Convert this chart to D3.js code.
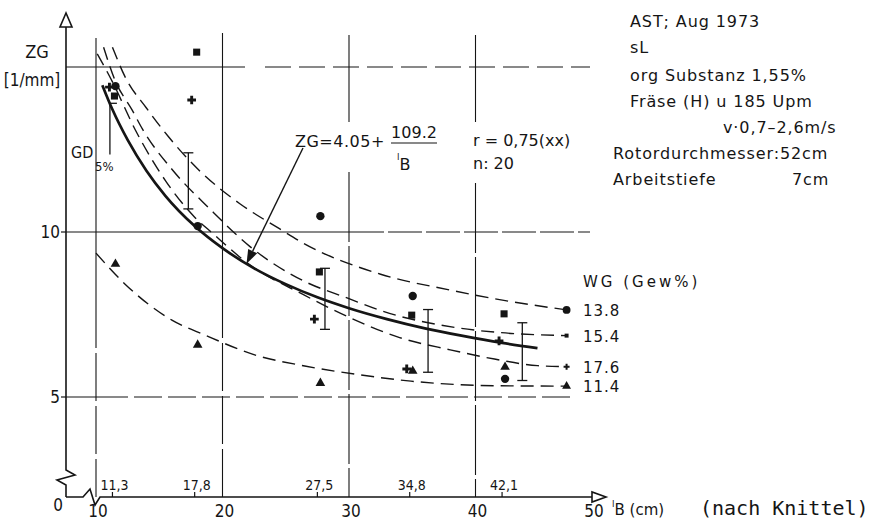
<!DOCTYPE html>
<html>
<head>
<meta charset="utf-8">
<script src="https://cdn.jsdelivr.net/npm/d3@7"></script>
<style>
  html, body { margin: 0; padding: 0; background: #fff; }
  svg { display: block; }
  text { font-family: "DejaVu Sans", sans-serif; fill: #151515; }
  .cond { font-family: "DejaVu Sans Condensed", "DejaVu Sans", sans-serif; }
  .mono { font-family: "DejaVu Sans Mono", "Liberation Mono", monospace; }
</style>
</head>
<body>
<svg id="chart" width="880" height="521"></svg>
<script>
// Working width l_B (cm) of the sampled plots
const lB = [11.3, 17.8, 27.5, 34.8, 42.1];
const lBLabels = ["11,3", "17,8", "27,5", "34,8", "42,1"];
const xTicks = [10, 20, 30, 40, 50];
const yTicks = [5, 10];

// Measured ZG (1/mm) for each water content WG (Gew%)
const zgWG138 = [14.42, 10.18, 10.48, 8.06, 5.55];
const zgWG154 = [14.12, 15.45, 8.79, 7.48, 7.52];
const zgWG176 = [14.39, 14.0, 7.36, 5.85, 6.70];
const zgWG114 = [9.03, 6.58, 5.42, 5.79, 5.91];

// Fitted curve per water content (l_B, ZG)
const fitL138  = [11.3, 12.3, 14.0, 15.7, 18.2, 21.4, 24.5, 26.4, 32.5, 38.0, 41.9, 47.2];
const fitZG138 = [15.6, 14.7, 13.75, 12.9, 11.85, 10.85, 10.1, 9.66, 8.72, 8.24, 7.95, 7.64];
const fitL154  = [10.6, 11.5, 12.85, 13.7, 16.0, 19.0, 22.2, 26.4, 30.0, 32.5, 38.5, 42.0, 47.2];
const fitZG154 = [15.6, 14.6, 13.7, 13.1, 11.9, 10.7, 9.55, 8.52, 7.98, 7.62, 7.10, 6.95, 6.86];
const fitL176  = [10.1, 11.3, 13.1, 15.5, 17.8, 19.25, 22.0, 26.4, 30.1, 34.0, 38.0, 41.5, 44.9, 47.2];
const fitZG176 = [15.4, 14.55, 13.1, 11.55, 10.45, 9.95, 9.05, 8.1, 7.4, 6.8, 6.43, 6.15, 5.95, 5.92];
const fitL114  = [10.0, 12.3, 16.0, 18.6, 22.6, 26.5, 30.9, 34.9, 41.7, 47.2];
const fitZG114 = [9.36, 8.42, 7.33, 6.88, 6.27, 5.94, 5.67, 5.48, 5.34, 5.33];

// Overall regression ZG = 4.05 + 109.2 / l_B
const regL  = [10.5, 11.3, 12.5, 14, 15.5, 17.8, 20, 22.5, 25, 27.5, 30, 33, 36, 39, 42.1, 44.9];
const regZG = [14.45, 13.71, 12.79, 11.85, 11.09, 10.18, 9.51, 8.90, 8.42, 8.02, 7.69, 7.36, 7.08, 6.85, 6.64, 6.48];

// GD 5 % bars
const gdL  = [11.1, 17.3, 28.1, 36.25, 43.7];
const gdLo = [12.35, 10.7, 7.05, 5.75, 5.5];
const gdHi = [13.9, 12.4, 8.9, 7.65, 7.25];

const wgLabels = ["13.8", "15.4", "17.6", "11.4"];

const infoLines = [
  { t: "AST; Aug 1973", x: 630, y: 27 },
  { t: "sL", x: 630, y: 53 },
  { t: "org  Substanz 1,55%", x: 630, y: 81 },
  { t: "Fräse (H)  u 185 Upm", x: 630, y: 107 },
  { t: "v·0,7–2,6m/s", x: 723, y: 133 },
  { t: "Rotordurchmesser:52cm", x: 613, y: 159 },
  { t: "Arbeitstiefe", x: 613, y: 185 },
  { t: "7cm", x: 792, y: 185 }
];

const ink = "#151515";
const svg = d3.select("#chart");
const x = d3.scaleLinear().domain([10, 50]).range([96, 602]);
const y = d3.scaleLinear().domain([5, 15]).range([397, 67]);
const X0 = 66, Y0 = 497;

// ---------- grid ----------
const grid = svg.append("g").attr("stroke", ink).attr("stroke-width", 1.1).attr("fill", "none");
const hGrid = [
  { v: 15, segs: [[66, 245, null], [265, 590, "26 8"]] },
  { v: 10, segs: [[66, 350, null], [350, 590, "34 4"]] },
  { v: 5,  segs: [[66, 100, null], [100, 570, "28 6"]] }
];
hGrid.forEach(h => h.segs.forEach(s => {
  grid.append("line").attr("x1", s[0]).attr("x2", s[1])
    .attr("y1", y(h.v)).attr("y2", y(h.v))
    .attr("stroke-dasharray", s[2]);
}));
const vGrid = [
  { v: 10, segs: [[38, 300, null], [300, Y0, "48 5"]] },
  { v: 20, segs: [[33, 290, null], [290, Y0, "48 5"]] },
  { v: 30, segs: [[35, 122, null], [172, Y0, "70 4"]] },
  { v: 40, segs: [[35, 122, null], [183, Y0, "70 4"]] }
];
vGrid.forEach(h => h.segs.forEach(s => {
  grid.append("line").attr("y1", s[0]).attr("y2", s[1])
    .attr("x1", x(h.v)).attr("x2", x(h.v))
    .attr("stroke-dasharray", s[2]);
}));

// ---------- axes with break ----------
const axes = svg.append("g").attr("stroke", ink).attr("stroke-width", 1.6).attr("fill", "none");
axes.append("path").attr("d", `M${X0},${Y0} L${X0},485 L57,480 L75,475 L${X0},470 L${X0},27`);
axes.append("path").attr("d", `M${X0},${Y0} L83,${Y0} L90,489 L95,505 L100,${Y0} L592,${Y0}`);
axes.append("path").attr("d", `M${X0},13 L${X0 - 6},27 L${X0 + 6},27 Z`).attr("fill", "#fff");
axes.append("path").attr("d", `M606,${Y0} L592,${Y0 - 5} L592,${Y0 + 5} Z`).attr("fill", "#fff");

// y ticks
yTicks.forEach(v => {
  axes.append("line").attr("x1", X0 - 5).attr("x2", X0).attr("y1", y(v)).attr("y2", y(v)).attr("stroke-width", 1.2);
  svg.append("text").attr("class", "cond").attr("x", X0 - 6).attr("y", y(v) + 6)
    .attr("text-anchor", "end").attr("font-size", 17).text(v);
});
svg.append("text").attr("class", "cond").attr("x", 58).attr("y", 511)
  .attr("text-anchor", "middle").attr("font-size", 17).text("0");

// x ticks
xTicks.forEach(v => {
  svg.append("text").attr("class", "cond").attr("x", x(v) + (v === 50 ? -8 : 2)).attr("y", 517)
    .attr("text-anchor", "middle").attr("font-size", 17).text(v);
});
lB.forEach((v, i) => {
  axes.append("line").attr("x1", x(v)).attr("x2", x(v)).attr("y1", Y0 - 5).attr("y2", Y0).attr("stroke-width", 1.2);
  svg.append("text").attr("class", "cond").attr("x", x(v) + 2).attr("y", 490)
    .attr("text-anchor", "middle").attr("font-size", 14).text(lBLabels[i]);
});

// axis titles
svg.append("text").attr("class", "cond").attr("x", 37).attr("y", 58).attr("text-anchor", "middle").attr("font-size", 18).text("ZG");
svg.append("text").attr("class", "cond").attr("x", 32).attr("y", 86).attr("text-anchor", "middle").attr("font-size", 17).text("[1/mm]");
const xt = svg.append("text").attr("x", 612).attr("y", 515).attr("font-size", 15);
xt.append("tspan").attr("font-size", 9).attr("dy", -8).text("l");
xt.append("tspan").attr("dy", 8).text("B (cm)");
svg.append("text").attr("class", "mono").attr("x", 700).attr("y", 515).attr("font-size", 20).text("(nach Knittel)");

// ---------- curves ----------
const line = d3.line().x(d => x(d[0])).y(d => y(d[1])).curve(d3.curveMonotoneX);
const zip = (a, b) => a.map((v, i) => [v, b[i]]);

const series = [
  { zg: zgWG138, fitL: fitL138, fitZG: fitZG138, sym: d3.symbolCircle,   size: 55, lsize: 48, dx: 3 },
  { zg: zgWG154, fitL: fitL154, fitZG: fitZG154, sym: d3.symbolSquare,   size: 50, lsize: 16, dx: 2 },
  { zg: zgWG176, fitL: fitL176, fitZG: fitZG176, sym: d3.symbolCross,    size: 42, lsize: 20, dx: -3 },
  { zg: zgWG114, fitL: fitL114, fitZG: fitZG114, sym: d3.symbolTriangle, size: 40, lsize: 34, dx: 3 }
];

const curves = svg.append("g").attr("fill", "none").attr("stroke", ink);
series.forEach(s => {
  curves.append("path").attr("d", line(zip(s.fitL, s.fitZG)))
    .attr("stroke-width", 1.4).attr("stroke-dasharray", "13 7");
});
curves.append("path").attr("d", line(zip(regL, regZG))).attr("stroke-width", 2.7);

// ---------- GD 5% bars ----------
const bars = svg.append("g").attr("stroke", ink).attr("stroke-width", 1.3);
gdL.forEach((v, i) => {
  const cx = x(v);
  bars.append("line").attr("x1", cx).attr("x2", cx).attr("y1", y(gdHi[i])).attr("y2", y(gdLo[i]));
  if (i === 0) {
    bars.append("line").attr("x1", cx).attr("x2", cx + 7).attr("y1", y(gdHi[i])).attr("y2", y(gdHi[i]));
  } else {
    [gdHi[i], gdLo[i]].forEach(w => bars.append("line")
      .attr("x1", cx - 5).attr("x2", cx + 5).attr("y1", y(w)).attr("y2", y(w)));
  }
});
svg.append("text").attr("class", "cond").attr("x", 71).attr("y", 158).attr("font-size", 16).text("GD");
svg.append("text").attr("class", "cond").attr("x", 95).attr("y", 171).attr("font-size", 13).text("5%");

// ---------- markers ----------
const marks = svg.append("g").attr("fill", ink);
series.forEach(s => {
  s.zg.forEach((v, i) => {
    marks.append("path").attr("d", d3.symbol().type(s.sym).size(s.size)())
      .attr("transform", `translate(${x(lB[i]) + s.dx},${y(v)})`);
  });
  const n = s.fitL.length - 1;
  marks.append("path").attr("d", d3.symbol().type(s.sym).size(s.lsize)())
    .attr("transform", `translate(${x(s.fitL[n])},${y(s.fitZG[n])})`);
});

// ---------- legend ----------
svg.append("text").attr("x", 583).attr("y", 287).attr("font-size", 15)
  .attr("letter-spacing", 3).text("WG (Gew%)");
series.forEach((s, i) => {
  const n = s.fitL.length - 1;
  svg.append("text").attr("x", 583).attr("y", y(s.fitZG[n]) + 6)
    .attr("font-size", 15).attr("letter-spacing", 1).text(wgLabels[i]);
});

// ---------- regression annotation ----------
svg.append("text").attr("x", 295).attr("y", 147).attr("font-size", 16).attr("letter-spacing", 0.5).text("ZG=4.05+");
svg.append("text").attr("x", 414).attr("y", 138).attr("font-size", 16).attr("text-anchor", "middle").text("109.2");
svg.append("line").attr("x1", 391).attr("x2", 437).attr("y1", 143).attr("y2", 143).attr("stroke", ink).attr("stroke-width", 1.2);
const frac = svg.append("text").attr("x", 397).attr("y", 170).attr("font-size", 16);
frac.append("tspan").attr("font-size", 9).attr("dy", -10).text("l");
frac.append("tspan").attr("dy", 10).text("B");
svg.append("text").attr("x", 473).attr("y", 146).attr("font-size", 16).text("r = 0,75(xx)");
svg.append("text").attr("x", 473).attr("y", 169).attr("font-size", 16).text("n: 20");

const tipX = x(21.9), tipY = y(9.04);
const sx = 303, sy = 148;
const ang = Math.atan2(tipY - sy, tipX - sx);
const hl = 14, hw = 5;
const bx = tipX - hl * Math.cos(ang), by = tipY - hl * Math.sin(ang);
svg.append("line").attr("x1", sx).attr("y1", sy).attr("x2", bx).attr("y2", by)
  .attr("stroke", ink).attr("stroke-width", 1.4);
svg.append("path").attr("fill", ink).attr("d",
  `M${tipX},${tipY} L${bx - hw * Math.sin(ang)},${by + hw * Math.cos(ang)} L${bx + hw * Math.sin(ang)},${by - hw * Math.cos(ang)} Z`);

// ---------- site information ----------
infoLines.forEach(d => {
  svg.append("text").attr("x", d.x).attr("y", d.y).attr("font-size", 16)
    .attr("letter-spacing", 0.9).text(d.t);
});
</script>
</body>
</html>
